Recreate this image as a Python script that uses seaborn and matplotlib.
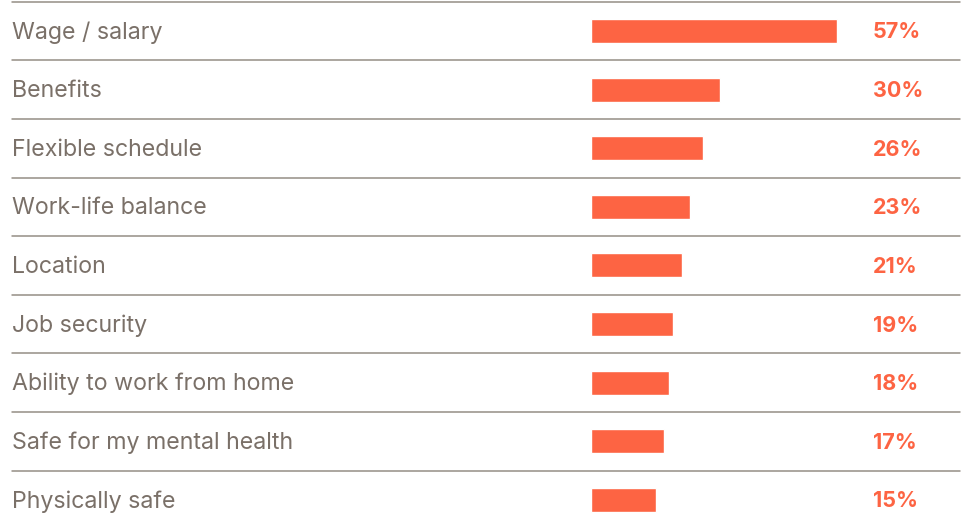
import matplotlib
matplotlib.use("Agg")
import matplotlib.pyplot as plt
import seaborn as sns
import pandas as pd

categories = ["Wage / salary", "Benefits", "Flexible schedule", "Work-life balance",
              "Location", "Job security", "Ability to work from home",
              "Safe for my mental health", "Physically safe"]
values = [57, 30, 26, 23, 21, 19, 18, 17, 15]
value_labels = ["57%", "30%", "26%", "23%", "21%", "19%", "18%", "17%", "15%"]

sns.set_theme(style="white")
plt.rcParams['font.family'] = ['Inter', 'DejaVu Sans']

df = pd.DataFrame({"cat": categories, "val": values})

fig = plt.figure(figsize=(9.63, 5.16), dpi=100)
ax = fig.add_axes([0, 0, 1, 1])

bar_color = "#FD6443"
text_color = "#7A7068"
line_color = "#958E85"

sns.barplot(data=df, y="cat", x="val", orient="h", color=bar_color,
            width=0.41, saturation=1, ax=ax)

px = 4.316
ax.set_xlim(-591 / px, (963 - 591) / px)
rowh = 58.6
ax.set_ylim((516 - 31) / rowh, -31 / rowh)
dy = 1.5 / rowh

for i, (c, lab) in enumerate(zip(categories, value_labels)):
    ax.text(-579 / px, i + dy, c, ha="left", va="center", fontsize=16.7, color=text_color)
    ax.text((873 - 591) / px, i + dy, lab, ha="left", va="center", fontsize=15.5,
            fontweight="bold", color=bar_color)
    ax.axhline(i - 0.5, xmin=12 / 963, xmax=960 / 963, color=line_color, lw=1.1)

ax.set_axis_off()
fig.savefig("out.png", dpi=100)
